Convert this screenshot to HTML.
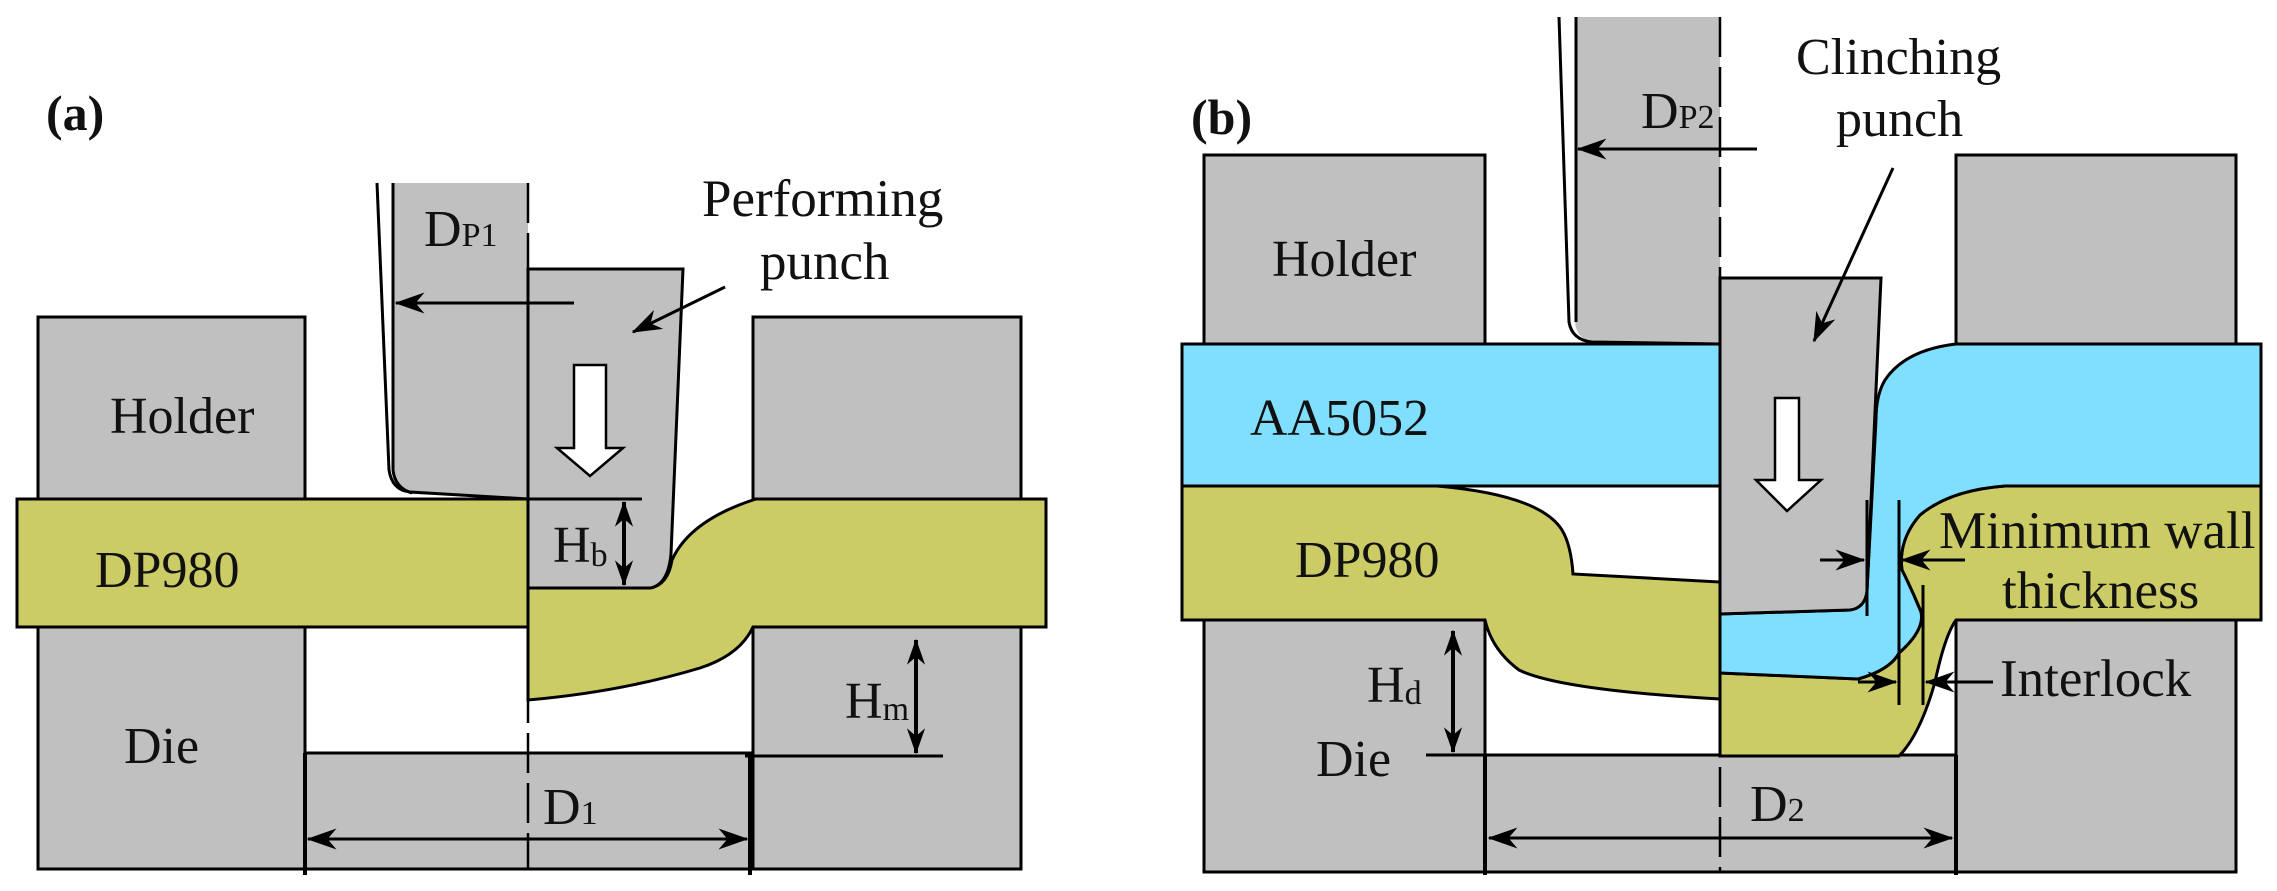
<!DOCTYPE html>
<html><head><meta charset="utf-8"><style>html,body{margin:0;padding:0;background:#fff}svg{display:block}</style></head><body>
<svg width="2277" height="891" viewBox="0 0 2277 891" xmlns="http://www.w3.org/2000/svg" font-family="'Liberation Serif', 'Times New Roman', serif">
<defs>
<marker id="ah2" viewBox="0 0 20 14" refX="19" refY="7" markerWidth="30" markerHeight="22" markerUnits="userSpaceOnUse" orient="auto-start-reverse"><path d="M0,0 L20,7 L0,14 L6,7 Z" fill="#000"/></marker>
<marker id="ah3" viewBox="0 0 20 14" refX="19" refY="7" markerWidth="26" markerHeight="24" markerUnits="userSpaceOnUse" orient="auto-start-reverse"><path d="M0,0 L20,7 L0,14 L6,7 Z" fill="#000"/></marker>
</defs>
<g stroke="#000" stroke-width="3">
<!-- ===== Panel a ===== -->
<rect x="38" y="317" width="267" height="182" fill="#c0c0c0"/>
<rect x="38" y="627" width="267" height="242" fill="#c0c0c0"/>
<rect x="753" y="317" width="268" height="182" fill="#c0c0c0"/>
<rect x="753" y="627" width="268" height="242" fill="#c0c0c0"/>
<rect x="305" y="753" width="448" height="116" fill="#c0c0c0"/>
<path d="M385,183 L528,183 L528,499 L412,494 Q395,490 393,470 L393,183" fill="#c0c0c0" stroke="none"/>
<path d="M377,183 L389,470 Q392,490 410,492 L528,499" fill="none"/>
<path d="M393,183 L393,470 Q395,488 412,493" fill="none"/>
<rect x="17" y="499" width="511" height="128" fill="#cccc66"/>
<path d="M528,588 L650,588 Q668,585 672,560 Q690,520 756,499 L1046,499 L1046,627 L753,627 Q740,655 700,668 Q620,692 528,700 Z" fill="#cccc66"/>
<path d="M528,269 L683,269 L671,554 Q668,585 650,588 L528,588 Z" fill="#c0c0c0"/>
<line x1="528" y1="499" x2="642" y2="499"/>
<line x1="528" y1="588" x2="650" y2="588"/>
<line x1="624" y1="502" x2="624" y2="585" marker-start="url(#ah3)" marker-end="url(#ah3)" stroke-width="4"/>
<line x1="574" y1="303" x2="396" y2="303" marker-end="url(#ah2)"/>
<line x1="725" y1="287" x2="633" y2="332" marker-end="url(#ah2)"/>
<path d="M574,365 L606,365 L606,448 L623,448 L590,476 L557,448 L574,448 Z" fill="#fff" stroke-width="2.5"/>
<line x1="745" y1="756" x2="943" y2="756"/>
<line x1="916" y1="640" x2="916" y2="753" marker-start="url(#ah3)" marker-end="url(#ah3)" stroke-width="4"/>
<line x1="305" y1="753" x2="305" y2="875" stroke-width="4"/>
<line x1="750" y1="753" x2="750" y2="875" stroke-width="4"/>
<line x1="308" y1="839" x2="747" y2="839" marker-start="url(#ah2)" marker-end="url(#ah2)"/>
<line x1="528" y1="183" x2="528" y2="869" stroke-dasharray="40,10" stroke-width="2.5"/>

<!-- ===== Panel b ===== -->
<rect x="1204" y="155" width="281" height="189" fill="#c0c0c0"/>
<rect x="1204" y="620" width="281" height="252" fill="#c0c0c0"/>
<rect x="1956" y="155" width="280" height="189" fill="#c0c0c0"/>
<rect x="1956" y="620" width="280" height="252" fill="#c0c0c0"/>
<rect x="1485" y="755" width="471" height="117" fill="#c0c0c0"/>
<path d="M1568,17 L1720,17 L1720,344 L1592,342 Q1575,338 1575,320 L1575,17" fill="#c0c0c0" stroke="none"/>
<path d="M1559,17 L1569,322 Q1572,340 1592,342 L1720,344" fill="none"/>
<line x1="1576" y1="17" x2="1576" y2="322"/>
<rect x="1182" y="344" width="538" height="142" fill="#80dfff"/>
<path d="M1182,486 L1437,486 Q1540,495 1562,530 Q1571,545 1573,574 L1720,582 L1720,699 Q1560,690 1519,670 Q1492,650 1485,620 L1182,620 Z" fill="#cccc66"/>
<path d="M1720,673 L1858,679 Q1890,670 1899,653 Q1925,630 1921,612 Q1912,590 1902,570 Q1898,540 1920,515 Q1950,490 2005,486 L2261,486 L2261,620 L1956,620 Q1945,635 1935,682 Q1920,735 1899,756 L1720,756 Z" fill="#cccc66"/>
<path d="M1720,614 L1720,673 L1858,679 Q1890,670 1899,653 Q1925,630 1921,612 Q1912,590 1902,570 Q1898,540 1920,515 Q1950,490 2005,486 L2261,486 L2261,344 L1956,344 Q1905,350 1885,380 Q1876,395 1876,420 L1867,591 Q1865,608 1850,610 Z" fill="#80dfff"/>
<path d="M1720,278 L1881,278 L1867,591 Q1865,608 1850,610 L1720,614 Z" fill="#c0c0c0"/>
<line x1="1182" y1="344" x2="1720" y2="344"/>
<line x1="1182" y1="486" x2="1720" y2="486"/>
<line x1="1182" y1="620" x2="1485" y2="620"/>
<line x1="1956" y1="344" x2="2261" y2="344"/>
<line x1="2005" y1="486" x2="2261" y2="486"/>
<line x1="1956" y1="620" x2="2261" y2="620"/>
<line x1="1426" y1="755" x2="1485" y2="755"/>
<line x1="1453" y1="631" x2="1453" y2="752" marker-start="url(#ah3)" marker-end="url(#ah3)" stroke-width="4"/>
<line x1="1485" y1="755" x2="1485" y2="875" stroke-width="4"/>
<line x1="1956" y1="755" x2="1956" y2="875" stroke-width="4"/>
<line x1="1489" y1="838" x2="1952" y2="838" marker-start="url(#ah2)" marker-end="url(#ah2)"/>
<line x1="1757" y1="149" x2="1578" y2="149" marker-end="url(#ah2)"/>
<line x1="1893" y1="168" x2="1814" y2="341" marker-end="url(#ah2)"/>
<path d="M1775,398 L1799,398 L1799,480 L1821,480 L1787,511 L1756,480 L1775,480 Z" fill="#fff" stroke-width="2.5"/>
<line x1="1867" y1="500" x2="1867" y2="616"/>
<line x1="1899" y1="500" x2="1899" y2="705"/>
<line x1="1923" y1="585" x2="1923" y2="705"/>
<line x1="1820" y1="560" x2="1864" y2="560" marker-end="url(#ah2)"/>
<line x1="1965" y1="560" x2="1902" y2="560" marker-end="url(#ah2)"/>
<line x1="1858" y1="682" x2="1896" y2="682" marker-end="url(#ah2)"/>
<line x1="1993" y1="682" x2="1926" y2="682" marker-end="url(#ah2)"/>
<line x1="1720" y1="17" x2="1720" y2="872" stroke-dasharray="40,10" stroke-width="2.5"/>
</g>
<g fill="#111">
<text x="46" y="130" font-size="50" font-weight="bold">(a)</text>
<text x="110" y="433" font-size="52">Holder</text>
<text x="95" y="587" font-size="52">DP980</text>
<text x="124" y="763" font-size="52">Die</text>
<text x="424" y="246" font-size="52">D<tspan font-size="34">P1</tspan></text>
<text x="702" y="216" font-size="53">Performing</text>
<text x="760" y="279" font-size="53">punch</text>
<text x="553" y="562" font-size="52">H<tspan font-size="34" dy="4">b</tspan></text>
<text x="845" y="718" font-size="52">H<tspan font-size="34" dy="2">m</tspan></text>
<text x="543" y="824" font-size="52">D<tspan font-size="34">1</tspan></text>
<text x="1191" y="134" font-size="50" font-weight="bold">(b)</text>
<text x="1272" y="276" font-size="52">Holder</text>
<text x="1250" y="435" font-size="52">AA5052</text>
<text x="1295" y="577" font-size="52">DP980</text>
<text x="1316" y="776" font-size="52">Die</text>
<text x="1367" y="702" font-size="52">H<tspan font-size="34" dy="2">d</tspan></text>
<text x="1641" y="128" font-size="52">D<tspan font-size="34">P2</tspan></text>
<text x="1796" y="74" font-size="52">Clinching</text>
<text x="1836" y="136" font-size="52">punch</text>
<text x="1939" y="548" font-size="53">Minimum wall</text>
<text x="2002" y="608" font-size="53">thickness</text>
<text x="2000" y="696" font-size="53">Interlock</text>
<text x="1750" y="821" font-size="52">D<tspan font-size="34">2</tspan></text>
</g>
</svg>
</body></html>
